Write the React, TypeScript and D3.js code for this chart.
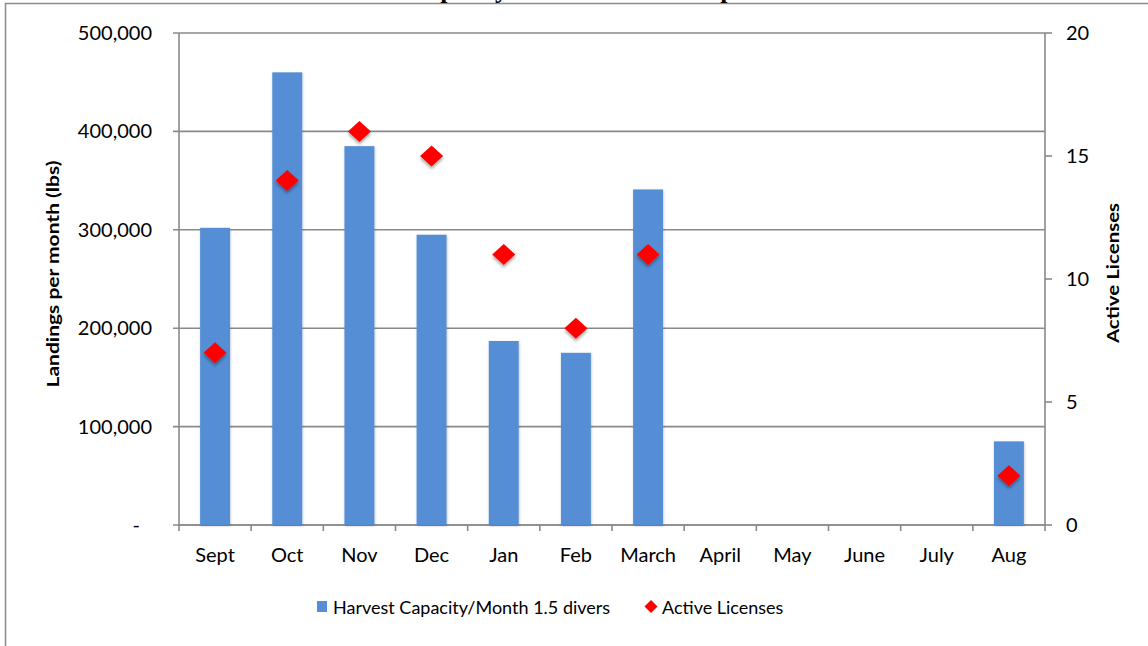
import React from "react";
import * as d3 from "d3";

const months = ["Sept", "Oct", "Nov", "Dec", "Jan", "Feb", "March", "April", "May", "June", "July", "Aug"];
const harvestCapacity: (number | null)[] = [302000, 460000, 385000, 295000, 187000, 175000, 341000, null, null, null, null, 85000];
const activeLicenses: (number | null)[] = [7, 14, 16, 15, 11, 8, 11, null, null, null, null, 2];
const leftTicks = [0, 100000, 200000, 300000, 400000, 500000];
const rightTicks = [0, 5, 10, 15, 20];
const titleText = "Harvest Capacity vs Active Licenses per month";
const leftAxisTitle = "Landings per month (lbs)";
const rightAxisTitle = "Active Licenses";
const legendBar = "Harvest Capacity/Month 1.5 divers";
const legendDiamond = "Active Licenses";

const W = 1148;
const H = 646;
const L = 179;
const R = 1045;
const T = 33;
const B = 525;
const FONT = "Lato, 'Open Sans', sans-serif";
const GRID = "#8a8a8a";
const BLUE = "#558ed5";
const RED = "#ff0000";

export default function App() {
  const x = d3.scaleBand<string>().domain(months).range([L, R]).padding(0);
  const y = d3.scaleLinear().domain([0, 500000]).range([B, T]);
  const y2 = d3.scaleLinear().domain([0, 20]).range([B, T]);
  const barW = x.step() * 0.415;
  const fmt = (v: number) => (v === 0 ? "-" : d3.format(",")(v));
  const diamond = (cx: number, cy: number) =>
    `M${cx},${cy - 10.5} L${cx + 11.5},${cy} L${cx},${cy + 10.5} L${cx - 11.5},${cy} Z`;

  return (
    <>
      <style>{`body{margin:0;}`}</style>
      <svg width={W} height={H} style={{ display: "block", background: "#fff" }}>
        <defs>
          <filter id="shadow" x="-50%" y="-50%" width="200%" height="200%">
            <feDropShadow dx="0" dy="2.5" stdDeviation="1.6" floodColor="#000" floodOpacity="0.35" />
          </filter>
          <filter id="barShadow" x="-20%" y="-5%" width="140%" height="110%">
            <feDropShadow dx="0.5" dy="1" stdDeviation="0.8" floodColor="#000" floodOpacity="0.25" />
          </filter>
        </defs>
        {/* outer frame */}
        <rect x={5.5} y={3.5} width={W + 20} height={H + 20} fill="none" stroke="#8c8c8c" strokeWidth={1.5} />
        {/* title, cut off at the top edge as in the reference */}
        <text x={575} y={-2} textAnchor="middle" fontFamily="'Liberation Serif', serif" fontWeight="bold" fontSize={26} fill="#000">
          {titleText}
        </text>

        {/* gridlines */}
        {leftTicks.map((t) => (
          <line key={"g" + t} x1={L - 6} x2={R} y1={y(t)} y2={y(t)} stroke={GRID} strokeWidth={1.6} />
        ))}
        {/* left axis */}
        <line x1={L} x2={L} y1={T} y2={B} stroke={GRID} strokeWidth={1.6} />
        {leftTicks.map((t) => (
          <text key={"lt" + t} x={t === 0 ? 140 : 152} y={y(t)} dy="0.35em" textAnchor="end" fontFamily={FONT} fontSize={20} fill="#000">
            {fmt(t)}
          </text>
        ))}
        {/* right axis */}
        <line x1={R} x2={R} y1={T} y2={B} stroke={GRID} strokeWidth={1.6} />
        {rightTicks.map((t) => (
          <g key={"rt" + t}>
            <line x1={R} x2={R + 7} y1={y2(t)} y2={y2(t)} stroke={GRID} strokeWidth={1.6} />
            <text x={1066} y={y2(t)} dy="0.35em" textAnchor="start" fontFamily={FONT} fontSize={20} fill="#000">
              {t}
            </text>
          </g>
        ))}
        {/* x axis */}
        <line x1={L} x2={R} y1={B} y2={B} stroke={GRID} strokeWidth={1.6} />
        {months.map((m) => (
          <line key={"xt" + m} x1={x(m)!} x2={x(m)!} y1={B} y2={B + 6} stroke={GRID} strokeWidth={1.6} />
        ))}
        <line x1={R} x2={R} y1={B} y2={B + 6} stroke={GRID} strokeWidth={1.6} />
        {months.map((m) => (
          <text key={"xl" + m} x={x(m)! + x.bandwidth() / 2} y={562} textAnchor="middle" fontFamily={FONT} fontSize={20} fill="#000">
            {m}
          </text>
        ))}

        {/* bars */}
        {months.map((m, i) => {
          const v = harvestCapacity[i];
          if (v == null) return null;
          const cx = x(m)! + x.bandwidth() / 2;
          return (
            <rect key={"b" + m} x={cx - barW / 2} y={y(v)} width={barW} height={B - y(v)} fill={BLUE} filter="url(#barShadow)" />
          );
        })}
        {/* diamonds */}
        {months.map((m, i) => {
          const v = activeLicenses[i];
          if (v == null) return null;
          const cx = x(m)! + x.bandwidth() / 2;
          return <path key={"d" + m} d={diamond(cx, y2(v))} fill={RED} filter="url(#shadow)" />;
        })}

        {/* axis titles */}
        <text transform={`translate(59,274) rotate(-90) scale(1.2,1)`} textAnchor="middle" fontFamily={FONT} fontWeight="bold" fontSize={17.5} fill="#000">
          {leftAxisTitle}
        </text>
        <text transform={`translate(1119,273) rotate(-90) scale(1.17,1)`} textAnchor="middle" fontFamily={FONT} fontWeight="bold" fontSize={17.5} fill="#000">
          {rightAxisTitle}
        </text>

        {/* legend */}
        <rect x={317} y={601} width={10} height={11} fill={BLUE} />
        <text x={333} y={614} fontFamily={FONT} fontSize={18} fill="#000">
          {legendBar}
        </text>
        <path d="M651,600 L657.5,606.5 L651,613 L644.5,606.5 Z" fill={RED} />
        <text x={662} y={614} fontFamily={FONT} fontSize={18} fill="#000">
          {legendDiamond}
        </text>
      </svg>
    </>
  );
}
